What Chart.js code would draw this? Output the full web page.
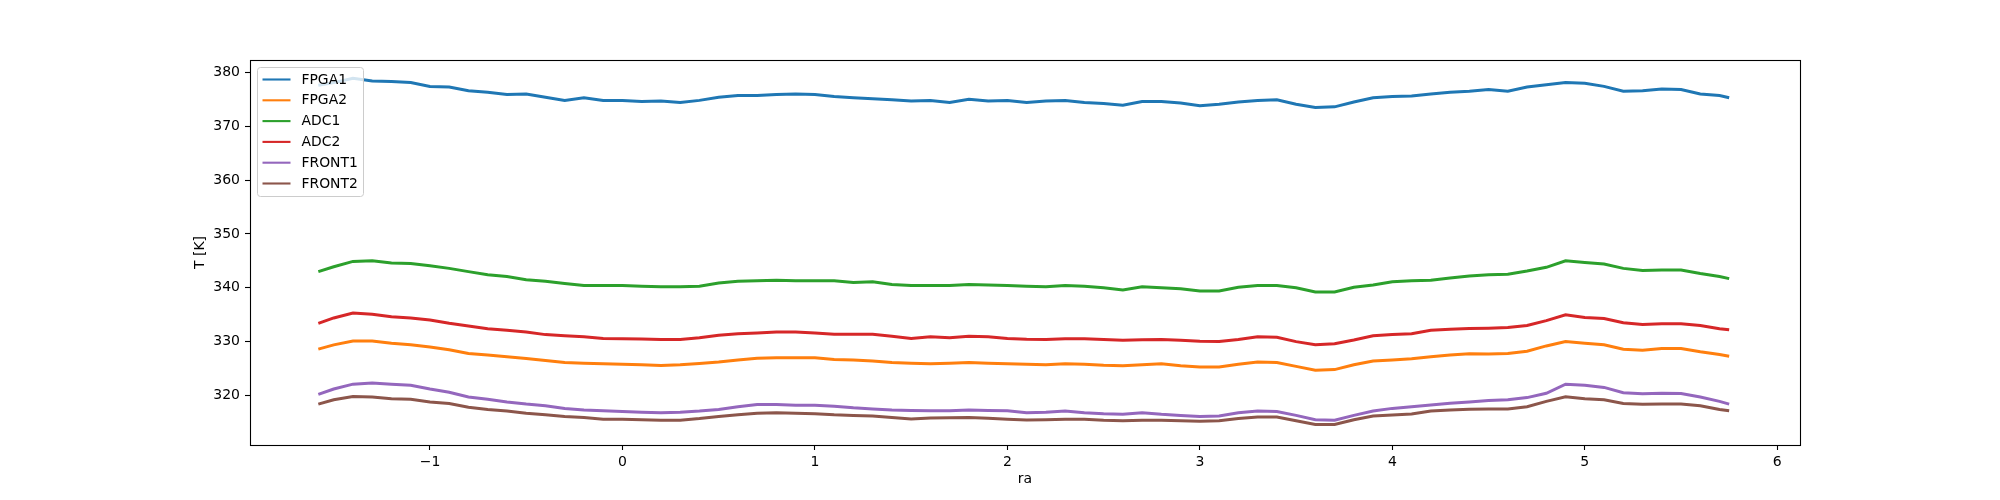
<!DOCTYPE html>
<html>
<head>
<meta charset="utf-8">
<script src="https://cdn.jsdelivr.net/npm/chart.js@4"></script>
<style>
  html, body { margin: 0; padding: 0; background: #fff; }
  #grafico { display: block; }
</style>
</head>
<body>
<canvas id="grafico" width="2000" height="500"></canvas>
<script>
// eje x (ra)
const ra = [-1.58, -1.5, -1.4, -1.3, -1.2, -1.1, -1.0, -0.9, -0.8, -0.7, -0.6, -0.5, -0.4, -0.3, -0.2, -0.1,
  0.0, 0.1, 0.2, 0.3, 0.4, 0.5, 0.6, 0.7, 0.8, 0.9,
  1.0, 1.1, 1.2, 1.3, 1.4, 1.5, 1.6, 1.7, 1.8, 1.9,
  2.0, 2.1, 2.2, 2.3, 2.4, 2.5, 2.6, 2.7, 2.8, 2.9,
  3.0, 3.1, 3.2, 3.3, 3.4, 3.5, 3.6, 3.7, 3.8, 3.9,
  4.0, 4.1, 4.2, 4.3, 4.4, 4.5, 4.6, 4.7, 4.8, 4.9,
  5.0, 5.1, 5.2, 5.3, 5.4, 5.5, 5.6, 5.7, 5.75];

const fpga1 = [377.6, 378.1, 378.9, 378.4, 378.3, 378.1, 377.4, 377.3, 376.6, 376.3, 375.9, 376.0, 375.4, 374.8, 375.3, 374.8,
  374.8, 374.6, 374.7, 374.4, 374.8, 375.4, 375.7, 375.7, 375.9, 376.0,
  375.9, 375.5, 375.3, 375.1, 374.9, 374.7, 374.8, 374.4, 375.0, 374.7,
  374.8, 374.4, 374.7, 374.8, 374.4, 374.2, 373.9, 374.6, 374.6, 374.3,
  373.8, 374.1, 374.5, 374.8, 374.9, 374.1, 373.5, 373.6, 374.5, 375.3,
  375.5, 375.6, 376.0, 376.3, 376.5, 376.8, 376.5, 377.3, 377.7, 378.1,
  378.0, 377.4, 376.5, 376.6, 376.9, 376.8, 376.0, 375.7, 375.3];

const fpga2 = [328.6, 329.4, 330.1, 330.1, 329.7, 329.4, 329.0, 328.5, 327.8, 327.5, 327.2, 326.85, 326.5, 326.1, 326.0, 325.9,
  325.8, 325.7, 325.55, 325.7, 325.95, 326.2, 326.6, 326.9, 327.0, 327.0,
  327.0, 326.7, 326.6, 326.4, 326.1, 326.0, 325.9, 326.0, 326.1, 326.0,
  325.9, 325.8, 325.7, 325.9, 325.8, 325.6, 325.5, 325.7, 325.9, 325.5,
  325.3, 325.3, 325.8, 326.2, 326.1, 325.4, 324.7, 324.8, 325.7, 326.4,
  326.6, 326.8, 327.2, 327.5, 327.75, 327.7, 327.8, 328.2, 329.2, 330.0,
  329.7, 329.4, 328.6, 328.4, 328.7, 328.7, 328.1, 327.6, 327.3];

const adc1 = [343.0, 343.9, 344.9, 345.0, 344.6, 344.5, 344.1, 343.6, 343.0, 342.4, 342.1, 341.5, 341.2, 340.8, 340.4, 340.4,
  340.4, 340.3, 340.2, 340.2, 340.3, 340.9, 341.2, 341.3, 341.4, 341.3,
  341.3, 341.3, 341.0, 341.1, 340.6, 340.4, 340.4, 340.4, 340.6, 340.5,
  340.4, 340.3, 340.2, 340.4, 340.3, 340.0, 339.6, 340.2, 340.0, 339.8,
  339.4, 339.4, 340.1, 340.4, 340.4, 340.0, 339.2, 339.2, 340.1, 340.5,
  341.1, 341.3, 341.4, 341.8, 342.2, 342.4, 342.5, 343.1, 343.8, 345.0,
  344.7, 344.4, 343.6, 343.2, 343.3, 343.3, 342.65, 342.1, 341.7];

const adc2 = [333.4, 334.4, 335.3, 335.1, 334.6, 334.4, 334.0, 333.4, 332.9, 332.4, 332.1, 331.8, 331.3, 331.1, 330.9, 330.6,
  330.55, 330.5, 330.4, 330.4, 330.7, 331.2, 331.45, 331.6, 331.8, 331.8,
  331.6, 331.35, 331.35, 331.35, 331.0, 330.6, 330.9, 330.7, 331.0, 330.9,
  330.6, 330.45, 330.4, 330.55, 330.55, 330.4, 330.25, 330.35, 330.4, 330.25,
  330.05, 330.0, 330.4, 330.9, 330.8, 330.0, 329.4, 329.6, 330.3, 331.1,
  331.3, 331.45, 332.1, 332.3, 332.45, 332.5, 332.6, 333.0, 333.9, 335.0,
  334.5, 334.3, 333.5, 333.2, 333.3, 333.3, 333.0, 332.4, 332.2];

const front1 = [320.2, 321.2, 322.1, 322.3, 322.1, 321.9, 321.2, 320.6, 319.7, 319.3, 318.8, 318.4, 318.1, 317.6, 317.3, 317.15,
  317.0, 316.9, 316.8, 316.9, 317.1, 317.4, 317.9, 318.3, 318.3, 318.2,
  318.2, 318.0, 317.7, 317.5, 317.3, 317.2, 317.15, 317.15, 317.3, 317.2,
  317.15, 316.8, 316.9, 317.1, 316.8, 316.6, 316.5, 316.8, 316.5, 316.3,
  316.1, 316.2, 316.8, 317.1, 317.0, 316.3, 315.5, 315.4, 316.3, 317.1,
  317.6, 317.9, 318.25, 318.55, 318.8, 319.05, 319.2, 319.6, 320.4, 322.1,
  321.9, 321.5, 320.5, 320.3, 320.4, 320.35, 319.7, 318.9, 318.4];

const front2 = [318.4, 319.2, 319.8, 319.7, 319.4, 319.3, 318.8, 318.5, 317.8, 317.4, 317.1, 316.7, 316.4, 316.1, 315.9, 315.6,
  315.6, 315.5, 315.4, 315.4, 315.7, 316.1, 316.4, 316.7, 316.8, 316.7,
  316.6, 316.4, 316.3, 316.2, 315.9, 315.65, 315.8, 315.85, 315.9, 315.75,
  315.6, 315.45, 315.5, 315.6, 315.6, 315.4, 315.3, 315.4, 315.4, 315.3,
  315.2, 315.3, 315.7, 316.0, 316.0, 315.3, 314.6, 314.6, 315.5, 316.2,
  316.35, 316.55, 317.1, 317.3, 317.45, 317.5, 317.5, 317.9, 318.9, 319.75,
  319.4, 319.2, 318.5, 318.35, 318.4, 318.4, 318.1, 317.4, 317.15];

const xTicks = [-1, 0, 1, 2, 3, 4, 5, 6];
const yTicks = [320, 330, 340, 350, 360, 370, 380];

const nombres = ['FPGA1', 'FPGA2', 'ADC1', 'ADC2', 'FRONT1', 'FRONT2'];
const series = [fpga1, fpga2, adc1, adc2, front1, front2];
const colores = ['#1f77b4', '#ff7f0e', '#2ca02c', '#d62728', '#9467bd', '#8c564b'];

const FUENTE = 'DejaVu Sans';
Chart.defaults.font.family = FUENTE;
Chart.defaults.font.size = 14;
Chart.defaults.color = '#000';

const formatoTick = v => (v < 0 ? '\u2212' + Math.abs(v) : String(v));

// marco y leyenda estilo matplotlib
const marcoLeyenda = {
    id: 'marcoLeyenda',
    afterDatasetsDraw(chart) {
        const ctx = chart.ctx;
        const a = chart.chartArea;
        ctx.save();
        ctx.strokeStyle = '#000';
        ctx.lineWidth = 1.1;
        ctx.strokeRect(a.left + 0.5, a.top + 0.5, a.right - a.left, a.bottom - a.top);

        const x0 = a.left + 7.5, y0 = a.top + 7.5, w = 106, h = 129;
        ctx.beginPath();
        if (ctx.roundRect) ctx.roundRect(x0, y0, w, h, 3);
        else ctx.rect(x0, y0, w, h);
        ctx.fillStyle = 'rgba(255,255,255,0.8)';
        ctx.fill();
        ctx.strokeStyle = '#cccccc';
        ctx.lineWidth = 1;
        ctx.stroke();

        ctx.font = '13.9px "' + FUENTE + '"';
        ctx.textBaseline = 'middle';
        ctx.textAlign = 'left';
        nombres.forEach((nombre, i) => {
            const y = y0 + 12 + i * 20.8;
            ctx.beginPath();
            ctx.moveTo(x0 + 5, y);
            ctx.lineTo(x0 + 33, y);
            ctx.strokeStyle = colores[i];
            ctx.lineWidth = 2.1;
            ctx.stroke();
            ctx.fillStyle = '#000';
            ctx.fillText(nombre, x0 + 44, y + 0.5);
        });
        ctx.restore();
    }
};

const ctx = document.getElementById('grafico').getContext('2d');

new Chart(ctx, {
    type: 'line',
    data: {
        datasets: series.map((valores, i) => ({
            label: nombres[i],
            data: ra.map((x, j) => ({ x: x, y: valores[j] })),
            borderColor: colores[i],
            backgroundColor: colores[i],
            borderWidth: 3,
            pointRadius: 0,
            tension: 0,
            fill: false,
            order: -i
        }))
    },
    options: {
        responsive: false,
        animation: false,
        devicePixelRatio: 1,
        layout: {
            padding: { left: 192, right: 200, top: 60, bottom: 12 }
        },
        scales: {
            x: {
                type: 'linear',
                min: -1.935,
                max: 6.118,
                afterBuildTicks: scale => { scale.ticks = xTicks.map(v => ({ value: v })); },
                afterFit: scale => { scale.height = 43; },
                grid: { drawOnChartArea: false, drawTicks: true, tickLength: 5, tickColor: '#000', tickWidth: 1.1 },
                border: { display: false },
                ticks: { color: '#000', padding: 4, maxRotation: 0, autoSkip: false, callback: v => formatoTick(v) },
                title: { display: true, text: 'ra', color: '#000', padding: 0 }
            },
            y: {
                type: 'linear',
                min: 310.8,
                max: 382.3,
                afterBuildTicks: scale => { scale.ticks = yTicks.map(v => ({ value: v })); },
                afterFit: scale => { scale.width = 58; },
                grid: { drawOnChartArea: false, drawTicks: true, tickLength: 5, tickColor: '#000', tickWidth: 1.1 },
                border: { display: false },
                ticks: { color: '#000', padding: 5, autoSkip: false, callback: v => formatoTick(v) },
                title: { display: true, text: 'T [K]', color: '#000', padding: 0 }
            }
        },
        plugins: {
            legend: { display: false },
            tooltip: { enabled: false }
        }
    },
    plugins: [marcoLeyenda]
});
</script>
</body>
</html>
